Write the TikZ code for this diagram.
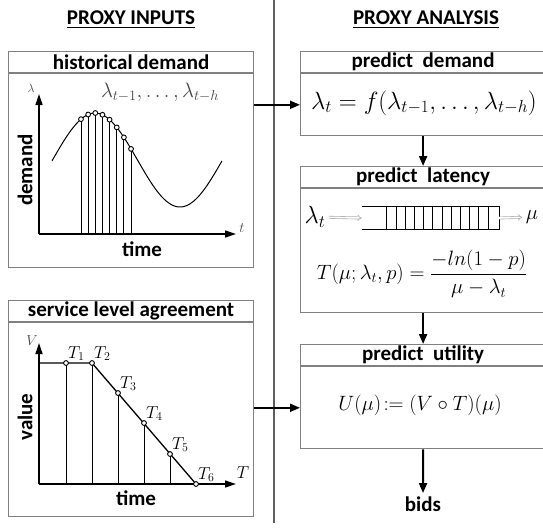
\documentclass[tikz,border=0pt]{standalone}
\usepackage{amsmath}
\usepackage{fontspec}
\usetikzlibrary{arrows.meta,positioning,calc}
\newfontfamily\calib{Carlito}
\definecolor{framegray}{RGB}{128,128,128}
\definecolor{rulegray}{RGB}{95,95,95}
\definecolor{softgray}{RGB}{170,170,170}
\definecolor{inkgray}{RGB}{70,70,70}
\newcommand{\lbl}{\calib\bfseries\fontsize{21}{25}\selectfont}
\newcommand{\msize}[1]{\fontsize{#1}{#1}\selectfont}

\begin{document}
\begin{tikzpicture}[x=1pt,y=-1pt,>=Stealth]
\tikzstyle{paneltitle}=[draw=framegray,line width=1.2pt,minimum width=245pt,minimum height=21pt,inner sep=0pt,font=\lbl,anchor=north west]
\tikzstyle{panelbody}=[draw=framegray,line width=1.2pt,minimum width=245pt,inner sep=0pt]
\tikzstyle{flow}=[line width=2pt,-{Triangle[length=10pt,width=8pt]}]
\tikzstyle{axis}=[line width=1.3pt,-{Triangle[length=11pt,width=7pt]}]
\tikzstyle{imply}=[softgray,double,double distance=1.6pt,line width=.6pt,-{Implies}]
\tikzstyle{sample}=[draw,fill=white,line width=.9pt]
\useasboundingbox (0,0) rectangle (543,531);

% headings and divider
\node[font=\lbl] (inHead) at (131,20) {\underline{PROXY INPUTS}};
\node[font=\lbl] (anHead) at (426,20) {\underline{PROXY ANALYSIS}};
\coordinate (divTop) at (274,0);
\coordinate (divBot) at (274,523);
\draw[rulegray,line width=1.2pt] (divTop) -- (divBot);

% input panels
\node[paneltitle] (hdT) at (8,51) {historical demand};
\node[panelbody,minimum height=194pt,below=0pt of hdT] (hdB) {};
\node[paneltitle] (slaT) at (8,300) {service level agreement};
\node[panelbody,minimum height=194pt,below=0pt of slaT] (slaB) {};

% analysis panels
\node[paneltitle] (pdT) at (300,51) {predict\ \ demand};
\node[panelbody,minimum height=62pt,below=0pt of pdT] (pdB) {};
\node[paneltitle] (plT) at (300,166) {predict\ \ latency};
\node[panelbody,minimum height=124pt,below=0pt of plT] (plB) {};
\node[paneltitle] (puT) at (300,344) {predict\ \ utility};
\node[panelbody,minimum height=82pt,below=0pt of puT] (puB) {};
\node[font=\lbl] (bids) at (423,504) {bids};

% historical demand plot
\draw[axis] (39,234) -- (39,94);
\draw[axis] (39,234) -- (236,234);
\node[inkgray,font=\msize{13}] (hdLam) at (31,88) {$\lambda$};
\node[inkgray,font=\msize{14}] (hdT0) at (242,228) {$t$};
\node[font=\lbl,rotate=90] (hdYlab) at (25,170) {demand};
\node[font=\lbl] (hdXlab) at (142,249) {time};
\draw[line width=1pt] plot[domain=52:222,samples=80,smooth] (\x,{160-47*cos(2.1176*(\x-95))});
\foreach \i in {0,...,7} {
  \pgfmathsetmacro\xx{81+7.15*\i}
  \pgfmathsetmacro\yy{160-47*cos(2.1176*(\xx-95))}
  \draw[line width=.9pt] (\xx,234) -- (\xx,\yy);
  \draw[sample] (\xx,\yy) circle (2.4pt);
}
\node[inkgray,font=\msize{22}] (hdLags) at (160,92) {$\lambda_{t-1},\ldots,\lambda_{t-h}$};

% service level agreement plot
\draw[axis] (39,484) -- (39,343);
\draw[axis] (39,484) -- (236,484);
\node[inkgray,font=\msize{14}] (slaV) at (32,341) {$V$};
\node[font=\msize{19}] (slaTax) at (243,473) {$T$};
\node[font=\lbl,rotate=90] (slaYlab) at (25,417) {value};
\node[font=\lbl] (slaXlab) at (136,498) {time};
\draw[line width=1.3pt] (39,363) -- (92,363) -- (196,484);
\foreach \xx/\yy/\k in {66/363/1,92/363/2,118/393/3,144/423/4,170/454/5,196/484/6} {
  \ifnum\k<6 \draw[line width=.9pt] (\xx,484) -- (\xx,\yy); \fi
  \draw[sample] (\xx,\yy) circle (2.4pt);
  \node[font=\msize{17},anchor=south west,inner sep=1pt] (slaP\k) at (\xx+1,\yy-1) {$T_{\k}$};
}

% analysis contents
\node[font=\msize{23}] (pdEq) at (424,103) {$\lambda_t = f(\lambda_{t-1},\ldots,\lambda_{t-h})$};
\node[font=\msize{25}] (lamIn) at (315,217) {$\lambda_t$};
\node[minimum width=137pt,minimum height=22pt,inner sep=0pt] (queue) at (430.5,218) {};
\node[font=\msize{22}] (muOut) at (532,217) {$\mu$};
\draw[line width=1pt] (queue.north west) -- (queue.north east) -- (queue.south east) -- (queue.south west);
\foreach \k in {0,...,11}
  \draw[line width=.7pt] ($(queue.north west)+(25+9.2*\k,0)$) -- ($(queue.south west)+(25+9.2*\k,0)$);
\draw[imply] (lamIn) -- (queue.west);
\draw[imply] (queue.east) -- (muOut);
\node[font=\msize{20}] (plEq) at (422,274) {$T(\mu;\lambda_t,p) = \dfrac{-ln(1-p)}{\mu-\lambda_t}$};
\node[font=\msize{20}] (puEq) at (420,405) {$U(\mu)\!:= (V\circ T)(\mu)$};

% connectors
\draw[flow] (hdB.east |- pdB) -- (pdB.west);
\draw[flow] (slaB.east |- puB) -- (puB.west);
\draw[flow] (pdB.south) -- (plT.north);
\draw[flow] (plB.south) -- (puT.north);
\draw[flow] (puB.south) -- (bids.north);
\end{tikzpicture}
\end{document}
